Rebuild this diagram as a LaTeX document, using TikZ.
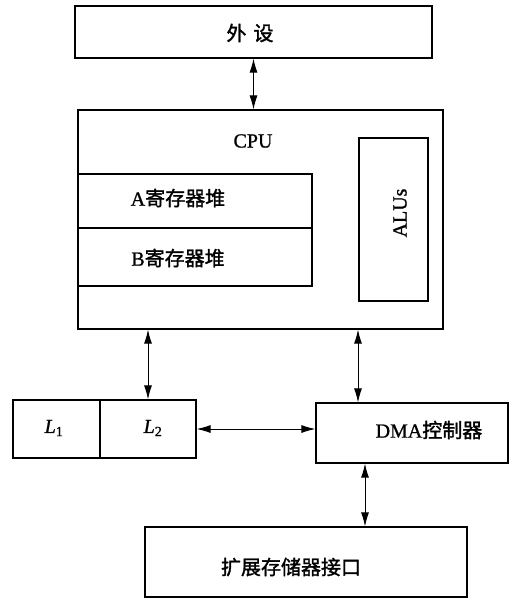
\documentclass[tikz,border=0pt]{standalone}
\usepackage{fontspec}
\setmainfont[FakeBold=1]{Liberation Serif}
\newfontfamily\cjk[FakeBold=1.5]{Noto Sans CJK SC}
\usetikzlibrary{arrows.meta}
\begin{document}
\begin{tikzpicture}[x=1pt,y=-1pt,
  box/.style={draw,line width=1.1pt,minimum width=#1,inner sep=0pt},
  lbl/.style={inner sep=0pt,font=\fontsize{20}{24}\selectfont},
  arr/.style={{Latex[length=14pt,width=8pt]}-{Latex[length=14pt,width=8pt]},line width=1pt}]
\useasboundingbox (0,0) rectangle (514,598);
\node[box=357pt,minimum height=52pt] (ws) at (253.5,32) {};
\node[lbl] (wst) at (250,33) {\cjk 外\hspace{7pt}设};
\node[box=365pt,minimum height=219pt] (cpu) at (260.5,219.5) {};
\node[lbl] (cput) at (253,141) {CPU};
\node[box=234pt,minimum height=54pt] (ra) at (195,201) {};
\node[lbl] (rat) at (178,198) {A{\cjk 寄存器堆}};
\node[box=234pt,minimum height=58pt] (rb) at (195,257) {};
\node[lbl] (rbt) at (178,258) {B{\cjk 寄存器堆}};
\node[box=69pt,minimum height=163pt] (alu) at (393.5,219.5) {};
\node[lbl,rotate=90] (alut) at (400,213) {ALUs};
\node[box=87pt,minimum height=58pt] (l1) at (56.5,429) {};
\node[lbl] (l1t) at (54,428) {\textit{L}\textsubscript{1}};
\node[box=96pt,minimum height=58pt] (l2) at (148,429) {};
\node[lbl] (l2t) at (153,428) {\textit{L}\textsubscript{2}};
\node[box=192pt,minimum height=60pt] (dma) at (412,433) {};
\node[lbl] (dmat) at (429,430) {DMA{\cjk 控制器}};
\node[box=322pt,minimum height=70pt] (ext) at (306,562) {};
\node[lbl] (extt) at (291,567) {\cjk 扩展存储器接口};
\coordinate (c1) at (358,0);
\coordinate (c2) at (365,0);
\draw[arr] (ws.south) -- (ws.south |- cpu.north);
\draw[arr] (cpu.south -| l2.north) -- (l2.north);
\draw[arr] (cpu.south -| c1) -- (dma.north -| c1);
\draw[arr] (l2.east) -- (dma.west |- l2.east);
\draw[arr] (dma.south -| c2) -- (ext.north -| c2);
\end{tikzpicture}
\end{document}
